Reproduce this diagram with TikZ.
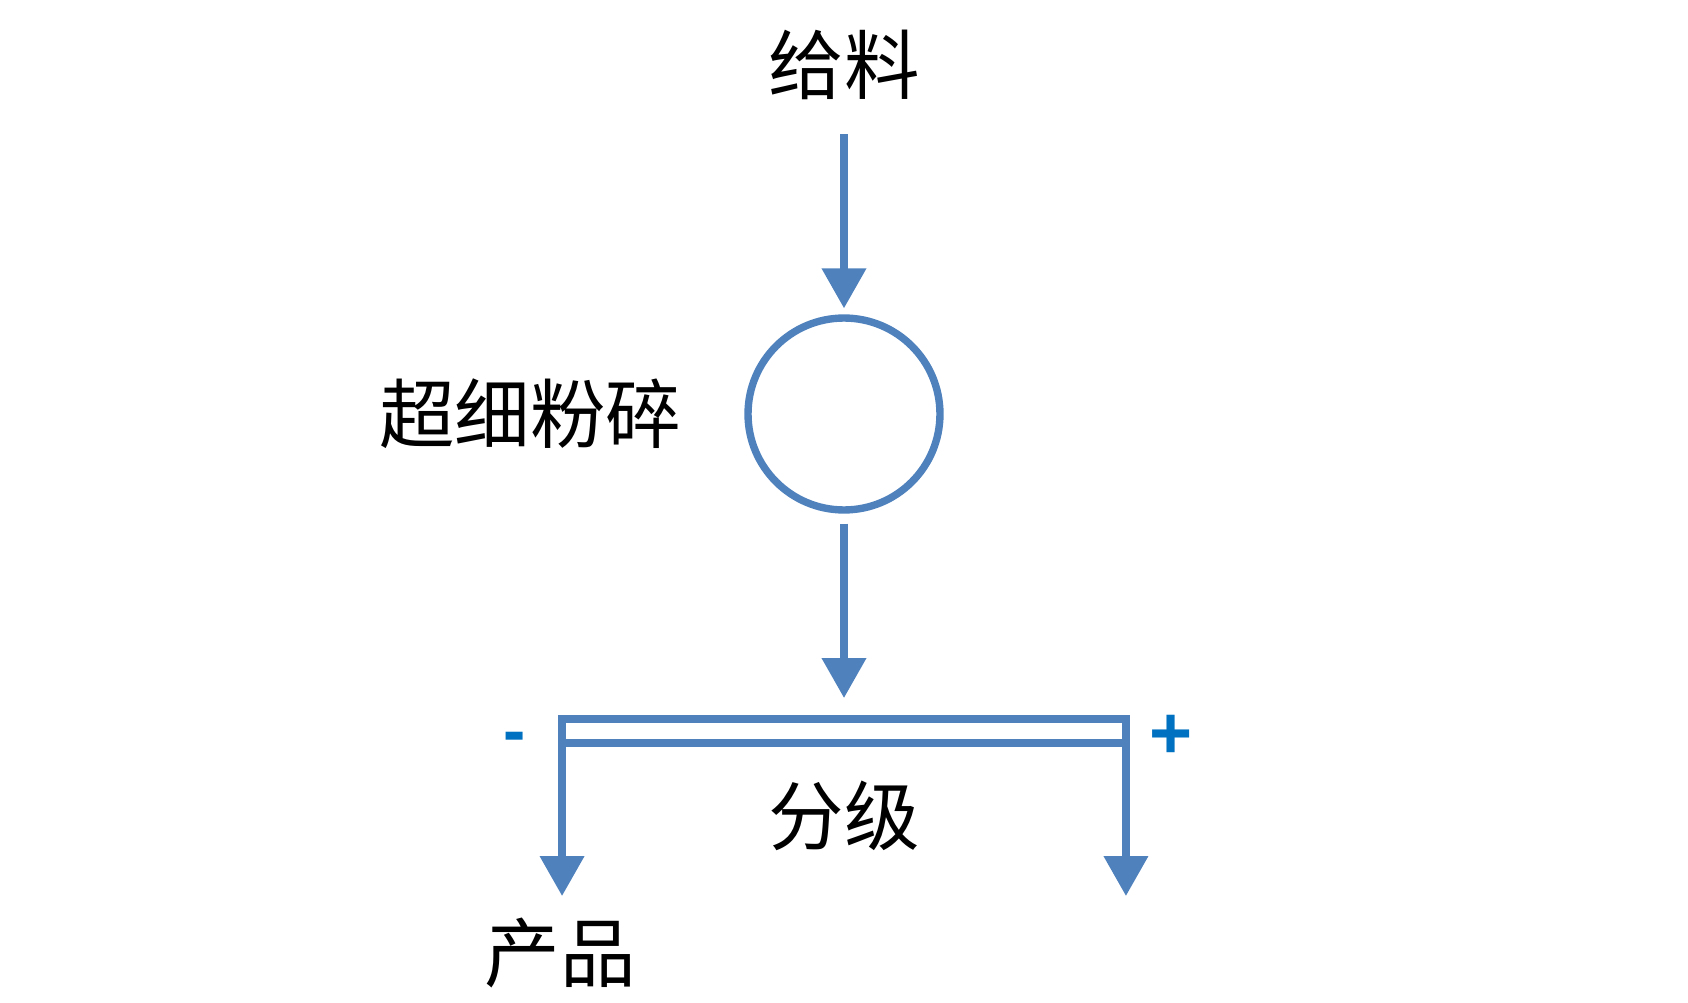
\documentclass[tikz,border=0pt]{standalone}
\usepackage{fontspec}
\setsansfont{Liberation Sans}
\newfontfamily\cjk{Noto Sans CJK SC}
\usetikzlibrary{positioning,arrows.meta}
\definecolor{flowblue}{HTML}{4F81BD}
\definecolor{signblue}{HTML}{0070C0}

\begin{document}
\begin{tikzpicture}[x = 0.02cm, y = -0.02cm,
    every node/.style = { inner sep = 0pt, font = \cjk\fontsize{43}{43}\selectfont },
    flow/.style = { draw = flowblue, line width = 4.2pt, -{Triangle[width = 0.86cm, length = 0.8cm]} },
    sign/.style = { anchor = base, text = signblue, font = \sffamily\bfseries\fontsize{38}{38}\selectfont }]
    \useasboundingbox (0,0) rectangle (1688,1003);
    \node (feed) at (844,65) { 给料 };
    \node [circle, draw = flowblue, line width = 4.2pt, minimum size = 3.84cm] (mill) at (844,414) {};
    \node [left = 1.25cm of mill] (milltext) { 超细粉碎 };
    \node [rectangle, draw = flowblue, line width = 4.2pt, outer sep = 0pt, minimum width = 11.28cm, minimum height = 0.48cm] (sieve) at (844,731) {};
    \node [below = 0.76cm of sieve] (sievetext) { 分级 };
    \coordinate (fine) at (sieve.north west |- 0,896);
    \coordinate (coarse) at (sieve.north east |- 0,896);
    \node [below = 0.44cm of fine, xshift = -0.04cm] (product) { 产品 };
    \node [sign] (minus) at (515,753) { - };
    \node [sign, font = \sffamily\bfseries\fontsize{42}{42}\selectfont] (plus) at (1171,758) { + };

    \draw [flow] ([yshift = -0.68cm] feed.south) -- ([yshift = 0.12cm] mill.north);
    \draw [flow] ([yshift = -0.2cm] mill.south) -- ([yshift = 0.42cm] sieve.north);
    \draw [flow] (sieve.north west) -- (fine);
    \draw [flow] (sieve.north east) -- (coarse);
\end{tikzpicture}
\end{document}
